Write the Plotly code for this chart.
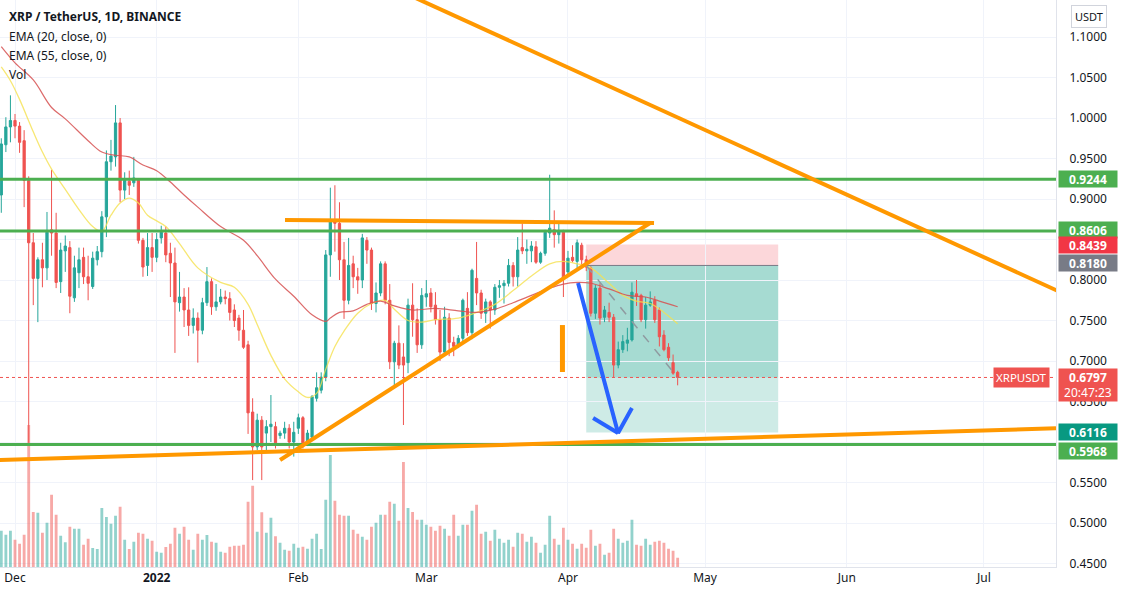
import plotly.graph_objects as go
import pandas as pd

# ---------------- data ----------------
start_date = "2021-11-28"
n_days = 149
opens = [0.905,0.967,0.989,0.997,0.990,0.972,0.923,0.846,0.802,0.825,0.815,0.862,0.858,0.798,0.836,0.840,0.778,0.809,0.828,0.804,
         0.792,0.825,0.835,0.878,0.946,0.952,0.994,0.911,0.922,0.920,0.923,0.849,0.818,0.840,0.828,0.852,0.858,0.833,0.821,0.772,
         0.779,0.763,0.744,0.753,0.738,0.772,0.798,0.767,0.773,0.779,0.777,0.763,0.753,0.738,0.720,0.637,0.594,0.627,0.611,0.619,
         0.619,0.608,0.611,0.617,0.600,0.617,0.630,0.599,0.606,0.654,0.664,0.680,0.831,0.874,0.870,0.825,0.775,0.820,0.804,0.800,
         0.849,0.837,0.771,0.784,0.820,0.775,0.699,0.722,0.705,0.698,0.769,0.751,0.720,0.779,0.784,0.769,0.751,0.711,0.753,0.723,
         0.720,0.728,0.765,0.735,0.802,0.784,0.759,0.773,0.763,0.791,0.793,0.796,0.818,0.804,0.840,0.836,0.836,0.841,0.822,0.833,
         0.858,0.862,0.856,0.859,0.810,0.828,0.823,0.843,0.825,0.815,0.759,0.790,0.754,0.760,0.754,0.695,0.714,0.722,0.726,0.783,
         0.781,0.751,0.769,0.775,0.763,0.732,0.717,0.698,0.686]
highs = [0.975,1.001,1.028,1.005,0.995,0.985,0.928,0.858,0.828,0.846,0.884,0.936,0.883,0.846,0.855,0.848,0.830,0.840,0.840,0.830,
         0.835,0.842,0.885,0.960,0.973,1.016,1.000,0.933,0.935,0.952,0.925,0.852,0.858,0.858,0.858,0.867,0.866,0.846,0.840,0.810,
         0.790,0.791,0.765,0.760,0.778,0.816,0.802,0.795,0.789,0.787,0.785,0.770,0.757,0.763,0.725,0.654,0.635,0.632,0.627,0.658,
         0.625,0.614,0.625,0.622,0.625,0.635,0.632,0.615,0.658,0.686,0.686,0.837,0.914,0.917,0.896,0.847,0.852,0.830,0.815,0.857,
         0.853,0.840,0.797,0.823,0.823,0.795,0.725,0.744,0.722,0.777,0.796,0.765,0.790,0.800,0.790,0.785,0.763,0.767,0.759,0.730,
         0.732,0.777,0.785,0.814,0.847,0.788,0.777,0.775,0.795,0.800,0.800,0.826,0.822,0.853,0.870,0.850,0.848,0.848,0.835,0.862,
         0.930,0.886,0.870,0.862,0.836,0.843,0.850,0.846,0.830,0.817,0.794,0.796,0.768,0.772,0.758,0.724,0.732,0.741,0.797,0.800,
         0.783,0.779,0.786,0.780,0.766,0.738,0.722,0.708,0.688]
lows = [0.883,0.958,0.970,0.975,0.957,0.890,0.599,0.769,0.748,0.791,0.800,0.830,0.790,0.784,0.810,0.759,0.773,0.790,0.795,0.775,
        0.789,0.818,0.828,0.853,0.935,0.940,0.896,0.900,0.905,0.915,0.845,0.804,0.805,0.810,0.822,0.845,0.822,0.779,0.710,0.761,
        0.742,0.731,0.734,0.698,0.733,0.768,0.757,0.762,0.770,0.770,0.750,0.742,0.725,0.715,0.610,0.553,0.590,0.553,0.590,0.600,
        0.592,0.604,0.604,0.592,0.582,0.610,0.592,0.595,0.603,0.650,0.660,0.675,0.804,0.835,0.800,0.752,0.770,0.790,0.783,0.790,
        0.820,0.763,0.760,0.780,0.770,0.690,0.668,0.690,0.621,0.685,0.730,0.710,0.715,0.767,0.760,0.745,0.700,0.706,0.706,0.706,
        0.716,0.723,0.731,0.727,0.769,0.752,0.747,0.740,0.757,0.778,0.771,0.792,0.792,0.792,0.832,0.820,0.822,0.820,0.820,0.830,
        0.852,0.840,0.845,0.779,0.806,0.822,0.812,0.814,0.811,0.755,0.752,0.745,0.748,0.748,0.680,0.691,0.710,0.712,0.724,0.768,
        0.748,0.740,0.767,0.747,0.718,0.712,0.700,0.683,0.670]
closes = [0.968,0.989,0.997,0.990,0.970,0.923,0.846,0.802,0.825,0.815,0.859,0.858,0.797,0.837,0.842,0.780,0.815,0.825,0.804,0.796,
          0.827,0.835,0.878,0.946,0.953,0.994,0.911,0.923,0.917,0.926,0.849,0.816,0.840,0.828,0.850,0.859,0.831,0.821,0.773,0.779,
          0.763,0.744,0.753,0.738,0.772,0.798,0.767,0.773,0.779,0.777,0.760,0.750,0.738,0.717,0.636,0.594,0.627,0.594,0.619,0.622,
          0.599,0.611,0.617,0.600,0.612,0.630,0.599,0.611,0.656,0.667,0.680,0.831,0.874,0.870,0.825,0.775,0.818,0.804,0.800,0.852,
          0.837,0.771,0.784,0.820,0.775,0.699,0.722,0.695,0.695,0.769,0.751,0.720,0.781,0.783,0.767,0.751,0.711,0.754,0.723,0.718,
          0.728,0.775,0.735,0.812,0.784,0.759,0.773,0.763,0.791,0.793,0.796,0.818,0.804,0.837,0.836,0.838,0.842,0.822,0.833,0.859,
          0.864,0.856,0.860,0.802,0.827,0.824,0.846,0.825,0.816,0.759,0.790,0.753,0.763,0.754,0.695,0.714,0.724,0.726,0.785,0.780,
          0.751,0.769,0.773,0.751,0.730,0.714,0.704,0.685,0.6797]
volumes = [145,129,145,109,93,129,568,220,217,137,177,289,209,125,99,161,153,153,89,113,
           76,72,236,200,173,205,241,109,72,101,137,133,113,105,61,57,80,93,157,133,
           161,109,69,133,109,128,101,97,61,57,81,85,85,89,261,325,141,219,137,197,
           123,97,69,65,93,77,81,73,113,133,72,269,448,265,209,205,205,149,133,121,
           109,161,177,209,209,261,253,185,420,236,220,189,189,169,161,145,165,153,125,209,
           125,169,169,225,249,133,141,105,149,113,97,109,81,137,133,101,121,97,57,89,
           205,113,89,157,109,93,73,93,77,149,85,93,49,57,153,113,97,105,189,89,
           85,113,89,101,105,97,73,65,37]

ema20_dates = ["2021-11-28","2021-11-30","2021-12-02","2021-12-05","2021-12-07","2021-12-09","2021-12-12","2021-12-15",
               "2021-12-18","2021-12-20","2021-12-22","2021-12-24","2021-12-26","2021-12-28","2021-12-30","2022-01-01",
               "2022-01-03","2022-01-06","2022-01-10","2022-01-15","2022-01-18","2022-01-21","2022-01-23","2022-01-26",
               "2022-01-29","2022-02-01","2022-02-03","2022-02-05","2022-02-07","2022-02-09","2022-02-11","2022-02-14",
               "2022-02-17","2022-02-20","2022-02-22","2022-02-25","2022-02-28","2022-03-03","2022-03-08","2022-03-12",
               "2022-03-16","2022-03-20","2022-03-24","2022-03-28","2022-03-31","2022-04-03","2022-04-06","2022-04-10",
               "2022-04-13","2022-04-16","2022-04-19","2022-04-22","2022-04-25"]
ema20_values = [1.063,1.046,1.023,0.983,0.958,0.937,0.912,0.887,0.866,0.860,0.880,0.895,0.901,0.895,0.880,0.873,
                0.866,0.845,0.815,0.797,0.791,0.770,0.745,0.707,0.678,0.662,0.655,0.660,0.690,0.718,0.737,0.759,
                0.771,0.775,0.764,0.750,0.748,0.751,0.753,0.760,0.770,0.787,0.805,0.820,0.823,0.820,0.815,0.796,
                0.781,0.774,0.771,0.760,0.746]
ema55_dates = ["2021-11-28","2021-12-01","2021-12-05","2021-12-09","2021-12-12","2021-12-17","2021-12-20","2021-12-23",
               "2021-12-26","2021-12-29","2022-01-01","2022-01-04","2022-01-07","2022-01-10","2022-01-15","2022-01-20",
               "2022-01-23","2022-01-27","2022-01-31","2022-02-04","2022-02-07","2022-02-08","2022-02-10","2022-02-13",
               "2022-02-16","2022-02-19","2022-02-22","2022-02-26","2022-03-03","2022-03-08","2022-03-12","2022-03-16",
               "2022-03-20","2022-03-24","2022-03-28","2022-03-31","2022-04-03","2022-04-06","2022-04-10","2022-04-14",
               "2022-04-18","2022-04-21","2022-04-25"]
ema55_values = [1.088,1.068,1.047,1.013,0.999,0.972,0.958,0.954,0.952,0.942,0.935,0.921,0.905,0.890,0.866,0.849,
                0.830,0.801,0.780,0.757,0.749,0.753,0.760,0.762,0.770,0.774,0.768,0.763,0.765,0.762,0.760,0.764,
                0.772,0.781,0.790,0.795,0.797,0.796,0.789,0.781,0.779,0.774,0.767]

month_ticks = ["2021-12-01","2022-01-01","2022-02-01","2022-03-01","2022-04-01","2022-05-01","2022-06-01","2022-07-01"]
month_labels = ["Dec","<b>2022</b>","Feb","Mar","Apr","May","Jun","Jul"]
price_ticks = [0.45,0.50,0.55,0.65,0.70,0.75,0.80,0.90,0.95,1.00,1.05,1.10]
hidden_grid = [0.60, 0.85]

# drawings (user annotations on the chart)
green_levels = [0.9244, 0.8606, 0.5968]
desc_trend_x = ["2022-02-18 21:00", "2022-07-26 10:00"]; desc_trend_y = [1.1682, 0.7628]
top_line_x = ["2022-01-29 02:00", "2022-04-19 20:00"]; top_line_y = [0.874, 0.8704]
rise_line_x = ["2022-01-28 00:00", "2022-04-18 23:00"]; rise_line_y = [0.5778, 0.8704]
base_line_x = ["2021-11-27 17:00", "2022-07-16 19:00"]; base_line_y = [0.5778, 0.617]
mark_x = ["2022-03-30 19:00", "2022-03-30 19:00"]; mark_y = [0.7444, 0.6864]
arrow_x = ["2022-04-03 05:00", "2022-04-11 23:00", "2022-04-15 00:00"]; arrow_y = [0.7963, 0.6111, 0.642]
arrow_head_x = ["2022-04-06 12:00", "2022-04-11 23:00"]; arrow_head_y = [0.6296, 0.6111]
pos_start, pos_end, pos_now = "2022-04-05", "2022-05-17", "2022-04-25"
stop_price, entry_price, target_price, last_price = 0.8439, 0.8180, 0.6116, 0.6797
x_range = ["2021-11-27 17:13", "2022-07-16 19:00"]
y_range = [0.4457, 1.1457]
vol_range = [0, 2268]

# ---------------- figure ----------------
dates = pd.date_range(start_date, periods=n_days, freq="D")
UP, DN = "#26a69a", "#ef5350"
FONT = "Noto Sans"

fig = go.Figure()
vol_colors = ["rgba(38,166,154,0.5)" if c >= o else "rgba(239,83,80,0.5)" for o, c in zip(opens, closes)]
fig.add_trace(go.Bar(x=dates, y=volumes, marker=dict(color=vol_colors, line=dict(width=0)),
                     width=0.62 * 86400000, xaxis="x", yaxis="y", hoverinfo="skip"))

fig.add_trace(go.Candlestick(x=dates, open=opens, high=highs, low=lows, close=closes,
                             increasing=dict(line=dict(color=UP, width=1), fillcolor=UP),
                             decreasing=dict(line=dict(color=DN, width=1), fillcolor=DN),
                             xaxis="x", yaxis="y2"))
fig.add_trace(go.Scatter(x=ema20_dates, y=ema20_values, mode="lines", line=dict(color="rgba(245,225,80,0.8)", width=1.3),
                         line_shape="spline", xaxis="x", yaxis="y2"))
fig.add_trace(go.Scatter(x=ema55_dates, y=ema55_values, mode="lines", line=dict(color="rgba(214,80,80,0.85)", width=1.2),
                         line_shape="spline", xaxis="x", yaxis="y2"))

# position tool zones
shapes = [
    dict(type="rect", xref="x", yref="y2", x0=pos_start, x1=pos_end, y0=entry_price, y1=stop_price,
         fillcolor="rgba(242,54,69,0.2)", line=dict(width=0), layer="below"),
    dict(type="rect", xref="x", yref="y2", x0=pos_start, x1=pos_end, y0=target_price, y1=entry_price,
         fillcolor="rgba(8,153,129,0.2)", line=dict(width=0), layer="below"),
    dict(type="rect", xref="x", yref="y2", x0=pos_start, x1=pos_end, y0=last_price, y1=entry_price,
         fillcolor="rgba(8,153,129,0.2)", line=dict(width=0), layer="below"),
]
fig.update_layout(shapes=shapes)

def line(xs, ys, color, width, dash="solid"):
    fig.add_trace(go.Scatter(x=xs, y=ys, mode="lines", line=dict(color=color, width=width, dash=dash),
                             xaxis="x", yaxis="y2", hoverinfo="skip"))

line([pos_start, pos_end], [entry_price, entry_price], "#787b86", 1)
line([pos_start, pos_now], [entry_price, last_price], "#8f9aa0", 1.5, "dash")
line([x_range[0], x_range[1]], [last_price, last_price], DN, 1, "dot")
for lv in green_levels:
    line([x_range[0], x_range[1]], [lv, lv], "#4caf50", 3)
ORANGE = "#ff9800"
line(desc_trend_x, desc_trend_y, ORANGE, 4)
line(top_line_x, top_line_y, ORANGE, 4)
line(rise_line_x, rise_line_y, ORANGE, 4)
line(base_line_x, base_line_y, ORANGE, 4)
line(mark_x, mark_y, ORANGE, 5)
BLUE = "#2962ff"
line(arrow_x, arrow_y, BLUE, 4)
line(arrow_head_x, arrow_head_y, BLUE, 4)

# annotations
PH = 567.0
def py(px):
    return 1 - px / PH

ann = []
hdr = [("<b>XRP / TetherUS, 1D, BINANCE</b>", 16), ("EMA (20, close, 0)", 36), ("EMA (55, close, 0)", 55), ("Vol", 74)]
for t, ypx in hdr:
    ann.append(dict(text=t, xref="paper", yref="paper", x=7 / 1056, y=py(ypx), xanchor="left", yanchor="middle",
                    showarrow=False, font=dict(family=FONT, size=12, color="#131722")))

def axis_label(text, price, bg, yshift=0):
    ann.append(dict(text=text, xref="paper", yref="y2", x=1.0, y=price, xanchor="left", yanchor="middle",
                    showarrow=False, bgcolor=bg, width=56, height=14, align="center", borderpad=1,
                    xshift=2, yshift=yshift, font=dict(family=FONT, size=12, color="white")))

axis_label("<b>0.9244</b>", 0.9244, "#4caf50")
axis_label("<b>0.8606</b>", 0.8606, "#4caf50", 1)
axis_label("<b>0.8439</b>", 0.8439, "#f23645", -1)
axis_label("<b>0.8180</b>", entry_price, "#787b86", 2)
axis_label("<b>0.6116</b>", target_price, "#089981", 1)
axis_label("<b>0.5968</b>", 0.5968, "#4caf50", -6)
ann.append(dict(text="<b>0.6797</b><br>20:47:23", xref="paper", yref="paper", x=1.0, y=py(377), xanchor="left",
                yanchor="top", yshift=9, showarrow=False, bgcolor="#ef5350", width=56, height=30, align="center",
                borderpad=1, xshift=2, font=dict(family=FONT, size=12, color="white")))
ann.append(dict(text="XRPUSDT", xref="paper", yref="y2", x=1050 / 1056, y=last_price, xanchor="right",
                yanchor="middle", showarrow=False, bgcolor="#ef5350", borderpad=2,
                font=dict(family=FONT, size=11.5, color="white")))
ann.append(dict(text="USDT", xref="paper", yref="paper", x=1089 / 1056, y=py(16), xanchor="center",
                yanchor="middle", showarrow=False, bgcolor="white", bordercolor="#d1d4dc", borderwidth=1,
                borderpad=3, font=dict(family=FONT, size=11, color="#131722")))

fig.update_layout(
    width=1123, height=595, margin=dict(l=0, r=67, t=0, b=28),
    paper_bgcolor="white", plot_bgcolor="white", showlegend=False,
    font=dict(family=FONT, size=12, color="#131722"),
    annotations=ann,
    xaxis=dict(type="date", range=x_range, tickvals=month_ticks, ticktext=month_labels, showgrid=True,
               gridcolor="#f0f3fa", gridwidth=1, zeroline=False, showline=True, linecolor="#e0e3eb",
               ticks="", rangeslider=dict(visible=False), tickfont=dict(size=12, color="#131722")),
    yaxis=dict(range=vol_range, visible=False, fixedrange=True),
    yaxis2=dict(range=y_range, overlaying="y", side="right", tickvals=price_ticks, tickformat=".4f",
                showgrid=True, gridcolor="#f0f3fa", zeroline=False, showline=True, linecolor="#e0e3eb",
                ticks="", ticklabelstandoff=10, tickfont=dict(size=12, color="#131722"),
                minor=dict(tickvals=hidden_grid, showgrid=True, gridcolor="#f0f3fa", ticks="")),
)

fig.write_html("out.html")
